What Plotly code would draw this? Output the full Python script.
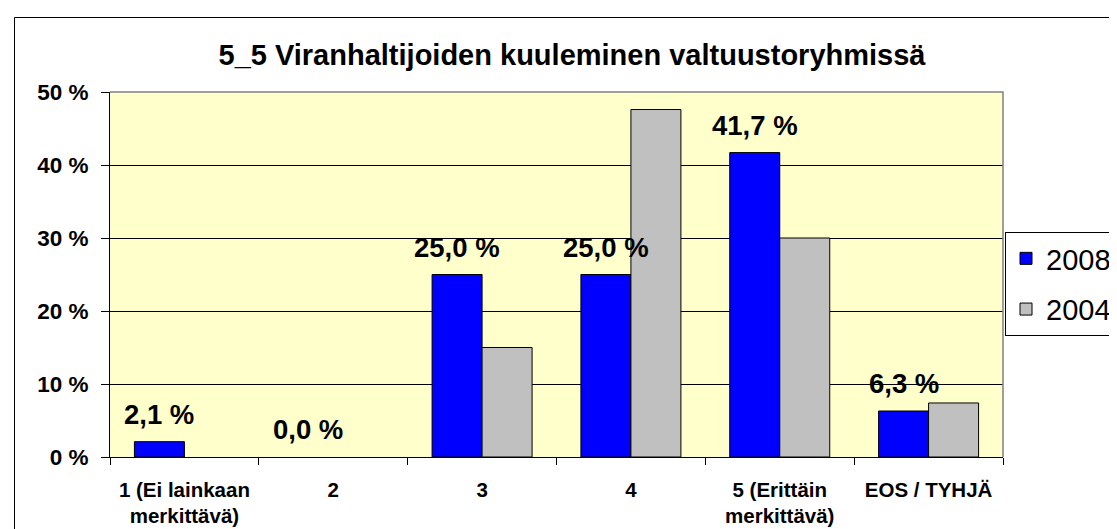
import plotly.graph_objects as go

categories = ["1 (Ei lainkaan<br>merkittävä)", "2", "3", "4", "5 (Erittäin<br>merkittävä)", "EOS / TYHJÄ"]
values_2008 = [2.1, 0.0, 25.0, 25.0, 41.7, 6.3]
values_2004 = [None, None, 15.0, 47.6, 30.0, 7.4]
y_tick_values = [0, 10, 20, 30, 40, 50]
y_tick_labels = ["0 %", "10 %", "20 %", "30 %", "40 %", "50 %"]
title_text = "5_5 Viranhaltijoiden kuuleminen valtuustoryhmissä"

W, H = 1117, 529
ML, MR, MT, MB = 102, 122, 84, 80
PW = W - ML - MR
PH = H - MT - MB

fig = go.Figure()
fig.add_trace(go.Bar(
    x=categories, y=values_2008, name="2008",
    marker=dict(color="#0000FF",
                line=dict(color="black", width=[1 if v > 0 else 0 for v in values_2008])),
    legendgroup="a",
))
fig.add_trace(go.Bar(
    x=categories, y=values_2004, name="2004",
    marker=dict(color="#C0C0C0", line=dict(color="black", width=1)),
    legendgroup="b",
))

bargap = 0.328
cat_w = PW / len(categories)
bar_w = cat_w * (1 - bargap) / 2

for i, v in enumerate(values_2008):
    fig.add_annotation(
        x=i, y=v, xref="x", yref="y",
        text=f"{v:.1f}".replace(".", ",") + " %",
        showarrow=False, xshift=-bar_w / 2, yshift=10, yanchor="bottom",
        font=dict(family="Liberation Sans, Arial", size=27.5, color="black", weight="bold"),
    )

def px_to_paper_x(px):
    return (px - ML) / PW

def px_to_paper_y(py):
    return (H - MB - py) / PH

shapes = [
    dict(type="path", xref="paper", yref="paper",
         path="M 0,1 L 1,1 L 1,0", line=dict(color="#808080", width=1.5), layer="above"),
    dict(type="rect", xref="paper", yref="paper",
         x0=px_to_paper_x(6.5), y0=px_to_paper_y(H + 20), x1=px_to_paper_x(W + 20), y1=px_to_paper_y(9.5),
         line=dict(color="black", width=1), layer="above", fillcolor="rgba(0,0,0,0)"),
]

fig.update_layout(
    width=W, height=H,
    margin=dict(l=ML, r=MR, t=MT, b=MB, autoexpand=False),
    paper_bgcolor="white",
    plot_bgcolor="#FFFFCC",
    barmode="group", bargap=bargap, bargroupgap=0,
    font=dict(family="Liberation Sans, Arial", color="black"),
    title=dict(
        text=title_text, x=564 / W, xref="container", xanchor="center",
        y=1 - 47 / H, yref="container", yanchor="middle",
        font=dict(size=29, weight="bold", color="black"),
    ),
    legend=dict(
        x=px_to_paper_x(997), y=px_to_paper_y(224), xanchor="left", yanchor="top",
        bordercolor="black", borderwidth=1, bgcolor="white",
        font=dict(size=29, color="black"), tracegroupgap=10,
    ),
    shapes=shapes,
    showlegend=True,
)
fig.update_xaxes(
    showline=True, linecolor="black", linewidth=1,
    ticks="outside", tickson="boundaries", ticklen=7, tickcolor="black",
    tickfont=dict(size=20.5, weight="bold"), ticklabelstandoff=14,
    showgrid=False,
)
fig.update_yaxes(
    range=[0, 50], tickvals=y_tick_values, ticktext=y_tick_labels,
    showline=True, linecolor="black", linewidth=1,
    ticks="outside", ticklen=8, tickcolor="black",
    tickfont=dict(size=22.5, weight="bold"), ticklabelstandoff=8,
    showgrid=True, gridcolor="black", gridwidth=1, zeroline=False,
)

fig.write_html("out.html")
